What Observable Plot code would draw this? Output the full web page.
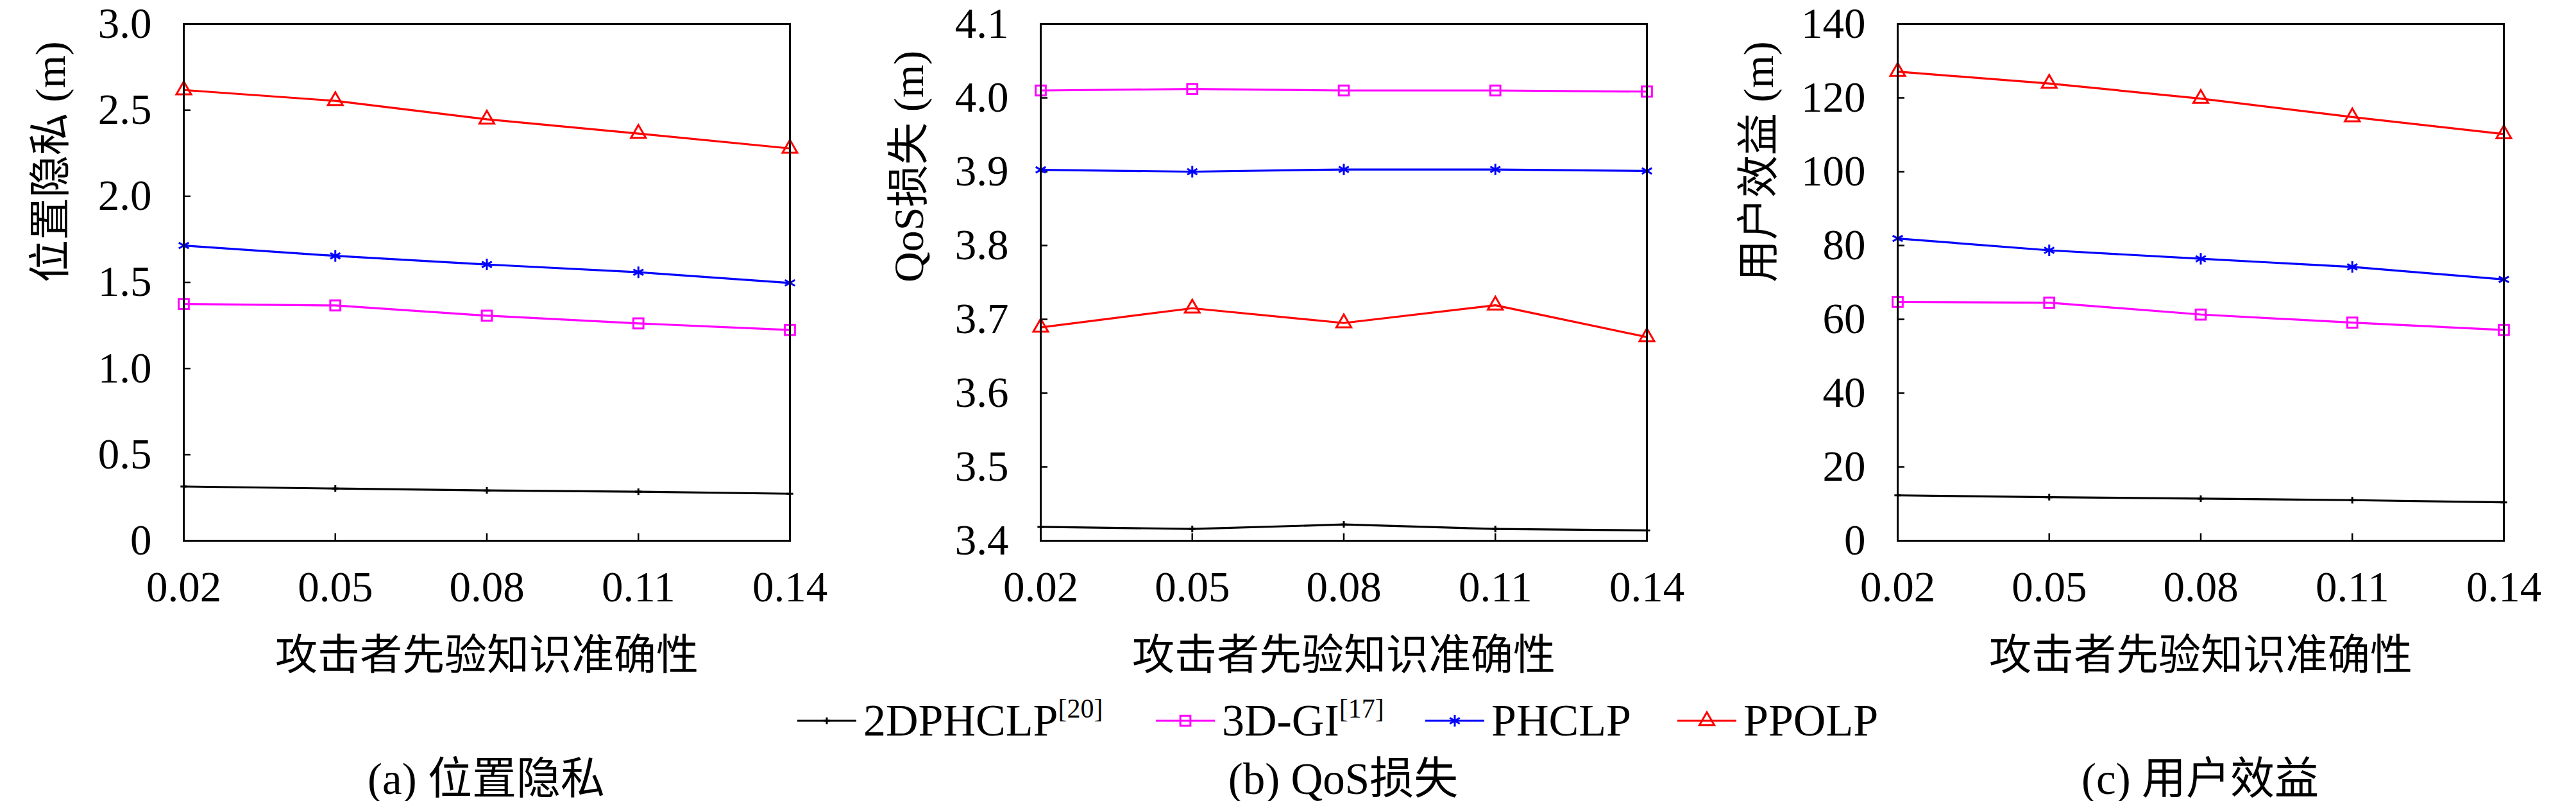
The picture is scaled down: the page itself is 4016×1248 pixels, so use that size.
<!DOCTYPE html>
<html><head><meta charset="utf-8">
<script src="https://cdn.jsdelivr.net/npm/d3@7"></script>
<script src="https://cdn.jsdelivr.net/npm/@observablehq/plot@0.6"></script>
<style>
html,body{margin:0;padding:0;background:#fff;}
body{width:4016px;height:1248px;position:relative;overflow:hidden;font-family:"Liberation Serif","Noto Sans CJK SC",serif;color:#000;}
.panel{position:absolute;top:0;}
.cap{position:absolute;top:1207px;transform:translate(-50%,-50%);font-size:69px;white-space:nowrap;}
.leg{position:absolute;top:1123px;transform:translateY(-50%);display:flex;align-items:center;font-size:70px;white-space:nowrap;}
.leg svg{margin-right:11px;}
.leg sup{font-size:42px;vertical-align:0;position:relative;top:-28px;}
</style></head><body>
<div id="pa" class="panel" style="left:0px"></div>
<div id="pb" class="panel" style="left:1336px"></div>
<div id="pc" class="panel" style="left:2672px"></div>
<div id="legend"></div>
<div class="cap" style="left:758px">(a) 位置隐私</div>
<div class="cap" style="left:2094px">(b) QoS损失</div>
<div class="cap" style="left:3430px">(c) 用户效益</div>
<script>
// ---- data ----
const xValues = [0.02, 0.05, 0.08, 0.11, 0.14];
const xTicks = [0.02, 0.05, 0.08, 0.11, 0.14];
const seriesNames = ["2DPHCLP", "3D-GI", "PHCLP", "PPOLP"];
const seriesRefs = ["[20]", "[17]", "", ""];
const seriesColors = ["#000000", "#ff00ff", "#0000ff", "#ff0000"];
const seriesSymbols = ["plus", "square2", "asterisk", "triangle2"];
const seriesR = [3.4, 10, 8.5, 11];
const xLabel = "攻击者先验知识准确性";

// (a) 位置隐私
const privacy2DPHCLP = [0.315, 0.303, 0.292, 0.285, 0.273];
const privacy3DGI = [1.375, 1.366, 1.307, 1.262, 1.224];
const privacyPHCLP = [1.714, 1.654, 1.604, 1.559, 1.497];
const privacyPPOLP = [2.617, 2.554, 2.447, 2.364, 2.278];
const privacyTicks = [0, 0.5, 1.0, 1.5, 2.0, 2.5, 3.0];
const privacyTickLabels = ["0", "0.5", "1.0", "1.5", "2.0", "2.5", "3.0"];

// (b) QoS损失
const qos2DPHCLP = [3.4188, 3.416, 3.422, 3.416, 3.414];
const qos3DGI = [4.010, 4.012, 4.010, 4.010, 4.0085];
const qosPHCLP = [3.9025, 3.900, 3.903, 3.903, 3.901];
const qosPPOLP = [3.689, 3.715, 3.695, 3.719, 3.676];
const qosTicks = [3.4, 3.5, 3.6, 3.7, 3.8, 3.9, 4.0, 4.1];
const qosTickLabels = ["3.4", "3.5", "3.6", "3.7", "3.8", "3.9", "4.0", "4.1"];

// (c) 用户效益
const utility2DPHCLP = [12.3, 11.8, 11.4, 11.0, 10.4];
const utility3DGI = [64.7, 64.5, 61.3, 59.1, 57.1];
const utilityPHCLP = [81.9, 78.7, 76.4, 74.2, 70.8];
const utilityPPOLP = [127.1, 123.9, 119.8, 114.8, 110.2];
const utilityTicks = [0, 20, 40, 60, 80, 100, 120, 140];
const utilityTickLabels = ["0", "20", "40", "60", "80", "100", "120", "140"];

const FONT = '"Liberation Serif","Noto Sans CJK SC",serif';

function rowsOf(seriesArrays) {
  const rows = [];
  seriesArrays.forEach((vals, si) => {
    vals.forEach((v, i) => rows.push({x: xValues[i], y: v, series: seriesNames[si]}));
  });
  return rows;
}

function panel(el, seriesArrays, yTicks, yTickLabels, yLabel, yLabelDx) {
  const rows = rowsOf(seriesArrays);
  const y0 = yTicks[0], y1 = yTicks[yTicks.length - 1];
  const x0 = xTicks[0], x1 = xTicks[xTicks.length - 1];
  const frameW = 1340 - 286 - 109, frameH = 1060 - 37 - 218;
  const tickLenY = (y1 - y0) * 11 / frameH;
  const tickLenX = (x1 - x0) * 11 / frameW;
  const marks = [
    Plot.ruleX(xTicks.slice(1, -1), {x: d => d, y1: y0, y2: y0 + tickLenY, stroke: "#000", strokeWidth: 2.5}),
    Plot.ruleY(yTicks.slice(1, -1), {y: d => d, x1: x0, x2: x0 + tickLenX, stroke: "#000", strokeWidth: 2.5}),
    Plot.axisX(xTicks, {tickSize: 0, tickPadding: 47, tickFormat: d3.format(".2f"), fontSize: 67, label: null}),
    Plot.axisY(yTicks, {tickSize: 0, tickPadding: 50, tickFormat: (d, i) => yTickLabels[i], fontSize: 67, label: null}),
    Plot.text([xLabel], {text: d => d, frameAnchor: "bottom", dy: 200, fontSize: 66}),
    Plot.text([yLabel], {text: d => d, frameAnchor: "left", dx: yLabelDx, rotate: -90, fontSize: 66}),
    Plot.line(rows, {x: "x", y: "y", z: "series", stroke: "series", strokeWidth: 3.2})
  ];
  seriesNames.forEach((name, si) => {
    marks.push(Plot.dot(rows.filter(r => r.series === name), {
      x: "x", y: "y", symbol: () => seriesSymbols[si], stroke: seriesColors[si], fill: "none",
      r: seriesR[si], strokeWidth: 3
    }));
  });
  marks.push(Plot.frame({stroke: "#000", strokeWidth: 3}));
  const chart = Plot.plot({
    width: 1340, height: 1060,
    marginLeft: 286, marginRight: 109, marginTop: 37, marginBottom: 218,
    style: {fontFamily: FONT, fontSize: "66px", color: "#000", background: "transparent", overflow: "visible"},
    x: {domain: [x0, x1]},
    y: {domain: [y0, y1]},
    color: {domain: seriesNames, range: seriesColors},
    symbol: {domain: seriesSymbols, range: seriesSymbols},
    marks
  });
  document.getElementById(el).appendChild(chart);
}

panel("pa", [privacy2DPHCLP, privacy3DGI, privacyPHCLP, privacyPPOLP], privacyTicks, privacyTickLabels, "位置隐私 (m)", -207);
panel("pb", [qos2DPHCLP, qos3DGI, qosPHCLP, qosPPOLP], qosTicks, qosTickLabels, "QoS损失 (m)", -205);
panel("pc", [utility2DPHCLP, utility3DGI, utilityPHCLP, utilityPPOLP], utilityTicks, utilityTickLabels, "用户效益 (m)", -216);

// ---- legend ----
const legendLefts = [1243, 1802, 2222, 2615];
const legend = document.getElementById("legend");
seriesNames.forEach((name, si) => {
  const item = document.createElement("div");
  item.className = "leg";
  item.style.left = legendLefts[si] + "px";
  const sym = d3.symbol().type({plus: d3.symbolPlus, square2: d3.symbolSquare2, asterisk: d3.symbolAsterisk, triangle2: d3.symbolTriangle2}[seriesSymbols[si]]).size(Math.PI * seriesR[si] * seriesR[si]);
  const sw = `<svg width="92" height="44" viewBox="0 0 92 44"><line x1="0" x2="92" y1="22" y2="22" stroke="${seriesColors[si]}" stroke-width="3.2"/><path transform="translate(46,22)" d="${sym()}" fill="none" stroke="${seriesColors[si]}" stroke-width="3"/></svg>`;
  item.innerHTML = sw + `<span>${name}${seriesRefs[si] ? `<sup>${seriesRefs[si]}</sup>` : ""}</span>`;
  legend.appendChild(item);
});
</script>
</body></html>
